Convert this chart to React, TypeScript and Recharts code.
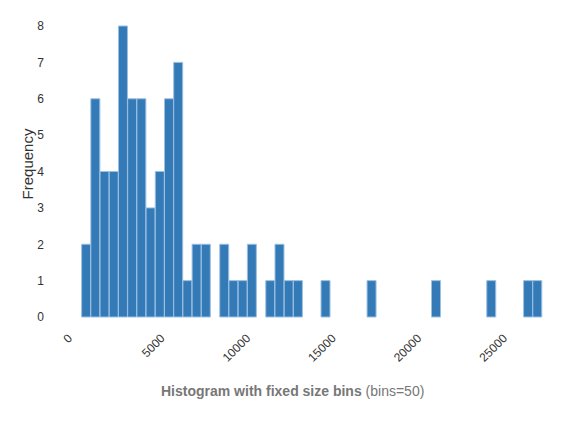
import React from 'react';
import { BarChart, Bar, XAxis, YAxis, Label } from 'recharts';

const binStart = 270;
const binWidth = 538;
const binCount = 50;
const xMax = binStart + binCount * binWidth;
const counts = [
  2, 6, 4, 4, 8, 6, 6, 3, 4, 6,
  7, 1, 2, 2, 0, 2, 1, 1, 2, 0,
  1, 2, 1, 1, 0, 0, 1, 0, 0, 0,
  0, 1, 0, 0, 0, 0, 0, 0, 1, 0,
  0, 0, 0, 0, 1, 0, 0, 0, 1, 1,
];
const xTicks = [0, 5000, 10000, 15000, 20000, 25000];
const yTicks = [0, 1, 2, 3, 4, 5, 6, 7, 8];
const xTitleBold = 'Histogram with fixed size bins';
const xTitleRest = ' (bins=50)';
const yTitle = 'Frequency';

const data = counts.map((c, i) => ({
  bin: i,
  mid: binStart + (i + 0.5) * binWidth,
  count: c,
}));

const FONT = '"Liberation Sans", Arial, Helvetica, sans-serif';
const CHART_W = 579;
const CHART_H = 426;
const MARGIN = { top: 26, right: 37, bottom: 49, left: 0 };
const Y_AXIS_W = 77;
const PLOT_W = CHART_W - MARGIN.left - MARGIN.right - Y_AXIS_W;
const CAT_PAD_LEFT = (binStart / xMax) * PLOT_W;

const XTitle = () => (
  <text x={161} y={395.5} fontFamily={FONT} fontSize={14} fill="#777">
    <tspan fontWeight="bold">{xTitleBold}</tspan>
    <tspan>{xTitleRest}</tspan>
  </text>
);

const YTitle = () => (
  <text
    x={33}
    y={164}
    transform="rotate(-90 33 164)"
    textAnchor="middle"
    fontFamily={FONT}
    fontSize={15}
    fill="#333"
  >
    {yTitle}
  </text>
);

const XTick = (props: any) => {
  const { x, y, payload } = props;
  const tx = payload.value === 0 ? x - 7 : x;
  return (
    <text
      x={tx}
      y={y}
      dy="0.355em"
      textAnchor="end"
      transform={`rotate(-45 ${tx} ${y})`}
      fontSize={12}
      fill="#333"
      fontFamily={FONT}
    >
      {payload.value}
    </text>
  );
};

const YTick = (props: any) => {
  const { x, y, payload } = props;
  return (
    <text x={x} y={y} dy="0.355em" textAnchor="end" fontSize={12} fill="#333" fontFamily={FONT}>
      {payload.value}
    </text>
  );
};

export default function App() {
  return (
    <div style={{ position: 'absolute', left: 0, top: 0, width: CHART_W, height: CHART_H, background: '#fff' }}>
      <BarChart
        width={CHART_W}
        height={CHART_H}
        data={data}
        margin={MARGIN}
        barCategoryGap={0}
        barGap={0}
      >
        <XAxis
          xAxisId="cat"
          dataKey="bin"
          type="category"
          hide
          height={0}
          padding={{ left: CAT_PAD_LEFT, right: 0 }}
        />
        <XAxis
          xAxisId="num"
          dataKey="mid"
          type="number"
          domain={[0, xMax]}
          allowDataOverflow
          ticks={xTicks}
          interval={0}
          axisLine={false}
          tickLine={false}
          tickSize={0}
          tickMargin={19}
          height={60}
          tick={<XTick />}
        >
          <Label content={XTitle} />
        </XAxis>
        <YAxis
          domain={[0, 8]}
          ticks={yTicks}
          interval={0}
          width={Y_AXIS_W}
          axisLine={false}
          tickLine={false}
          tickSize={0}
          tickMargin={33}
          tick={<YTick />}
        >
          <Label content={YTitle} />
        </YAxis>
        <Bar
          xAxisId="cat"
          dataKey="count"
          fill="#337ab7"
          stroke="#9cc0e2"
          strokeWidth={1}
          isAnimationActive={false}
        />
      </BarChart>
    </div>
  );
}
